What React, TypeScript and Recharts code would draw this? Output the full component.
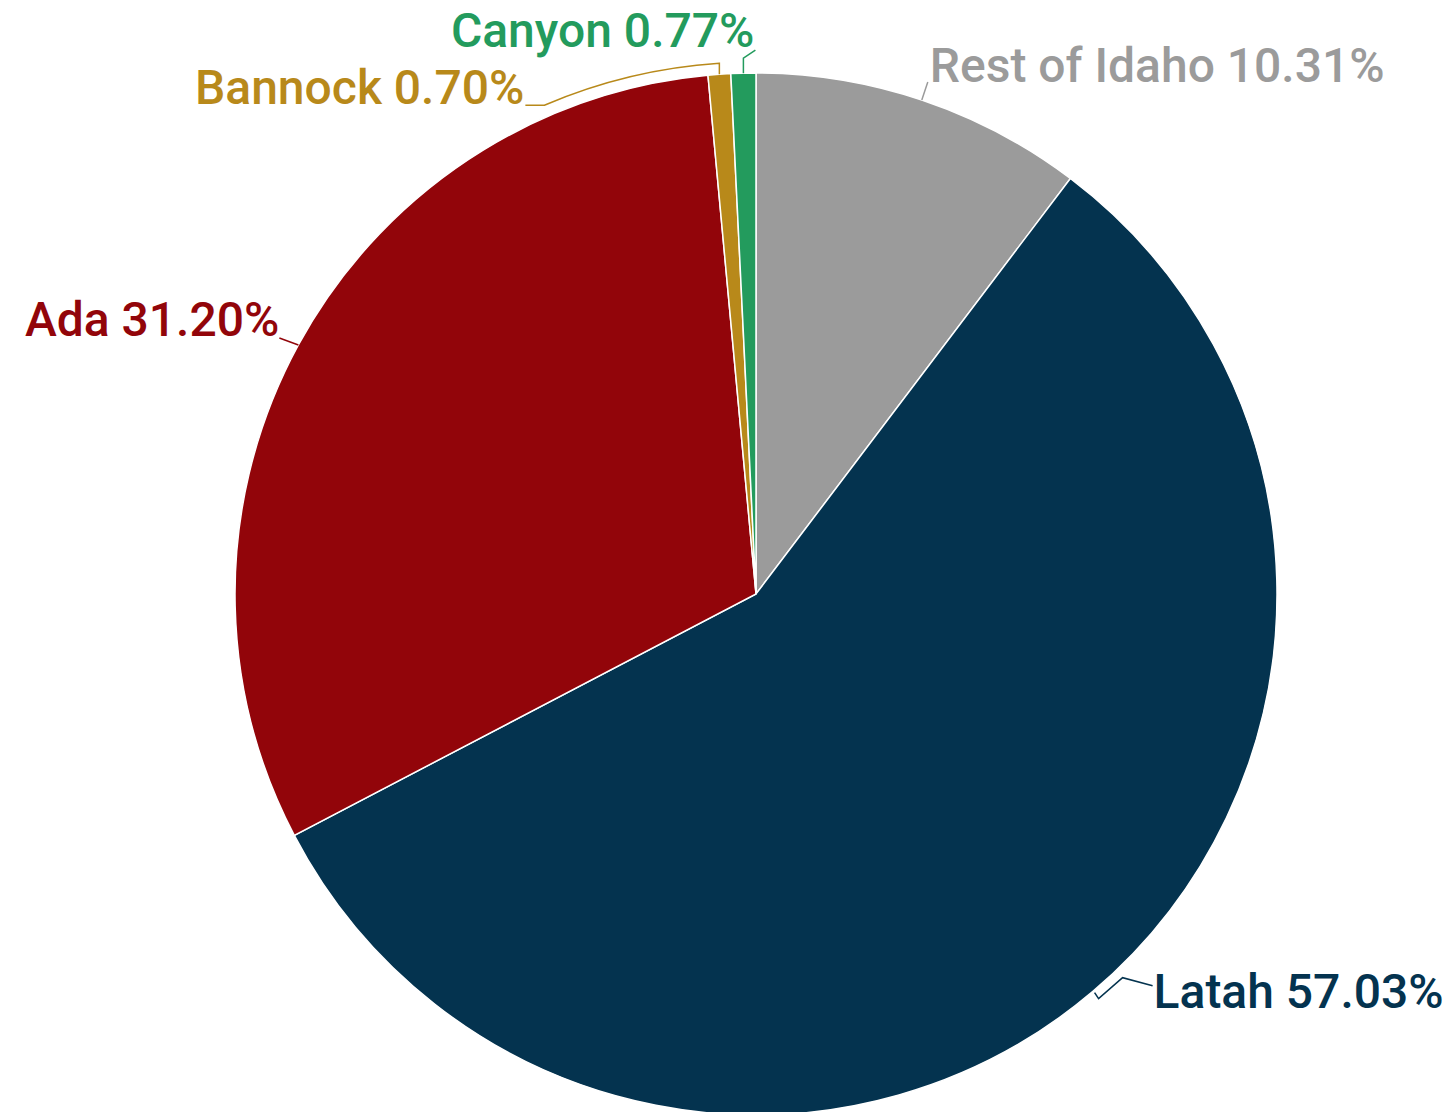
import { PieChart, Pie, Cell } from "recharts";

const regions = ["Rest of Idaho", "Latah", "Ada", "Bannock", "Canyon"];
const shares = [10.31, 57.03, 31.2, 0.7, 0.77];
const colors = ["#9b9b9b", "#04334f", "#92050a", "#b8891a", "#239b5d"];

const pieData = regions.map((name, i) => ({ name, value: shares[i] }));

// label placement relative to the slice's outer edge at its mid angle
type LabelLayout = {
  dx: number;
  dy: number;
  anchor: "start" | "end";
  leader: [number, number][];
  arc?: boolean;
};

const labelLayout: LabelLayout[] = [
  { dx: 8, dy: -18, anchor: "start", leader: [[0, 0], [6, -18]] },
  { dx: 61, dy: 16, anchor: "start", leader: [[2, 1], [6, 7], [30, -14], [60, -6]] },
  { dx: -19, dy: -9, anchor: "end", leader: [[0, 0], [-19, -7]] },
  { dx: -195, dy: 30, anchor: "end", leader: [[0, 0], [0, -11], [-175, 31], [-194, 31]], arc: true },
  { dx: 11, dy: -26, anchor: "end", leader: [[0, 0], [0, -15], [12, -23]] },
];

const RAD = Math.PI / 180;

function renderLabel(props: any) {
  const { cx, cy, midAngle, outerRadius, index } = props;
  const lay = labelLayout[index];
  const ex = cx + outerRadius * Math.cos(-midAngle * RAD);
  const ey = cy + outerRadius * Math.sin(-midAngle * RAD);
  const color = colors[index];
  const pts = lay.leader.map(([x, y]) => [ex + x, ey + y]);
  let path = "";
  if (lay.arc) {
    const r2 = Math.hypot(pts[1][0] - cx, pts[1][1] - cy);
    path = `M${pts[0][0]},${pts[0][1]} L${pts[1][0]},${pts[1][1]} A${r2},${r2} 0 0 0 ${pts[2][0]},${pts[2][1]} L${pts[3][0]},${pts[3][1]}`;
  } else {
    path = pts.map((p, i) => `${i === 0 ? "M" : "L"}${p[0]},${p[1]}`).join(" ");
  }
  return (
    <g key={`lbl-${index}`}>
      <path d={path} fill="none" stroke={color} strokeWidth={1.5} />
      <text
        x={ex + lay.dx}
        y={ey + lay.dy}
        textAnchor={lay.anchor}
        fill={color}
        fontFamily="Roboto, sans-serif"
        fontWeight={500}
        fontSize={48}
      >
        {`${regions[index]} ${shares[index].toFixed(2)}%`}
      </text>
    </g>
  );
}

export default function App() {
  return (
    <div style={{ position: "absolute", left: 0, top: 0, background: "#fff" }}>
      <PieChart width={1449} height={1112} margin={{ top: 0, right: 0, bottom: 0, left: 0 }}>
        <Pie
          data={pieData}
          dataKey="value"
          nameKey="name"
          cx={756}
          cy={594}
          outerRadius={521}
          startAngle={90}
          endAngle={-270}
          stroke="#ffffff"
          strokeWidth={1.5}
          label={renderLabel}
          labelLine={false}
          isAnimationActive={false}
        >
          {pieData.map((d, i) => (
            <Cell key={d.name} fill={colors[i]} />
          ))}
        </Pie>
      </PieChart>
    </div>
  );
}
